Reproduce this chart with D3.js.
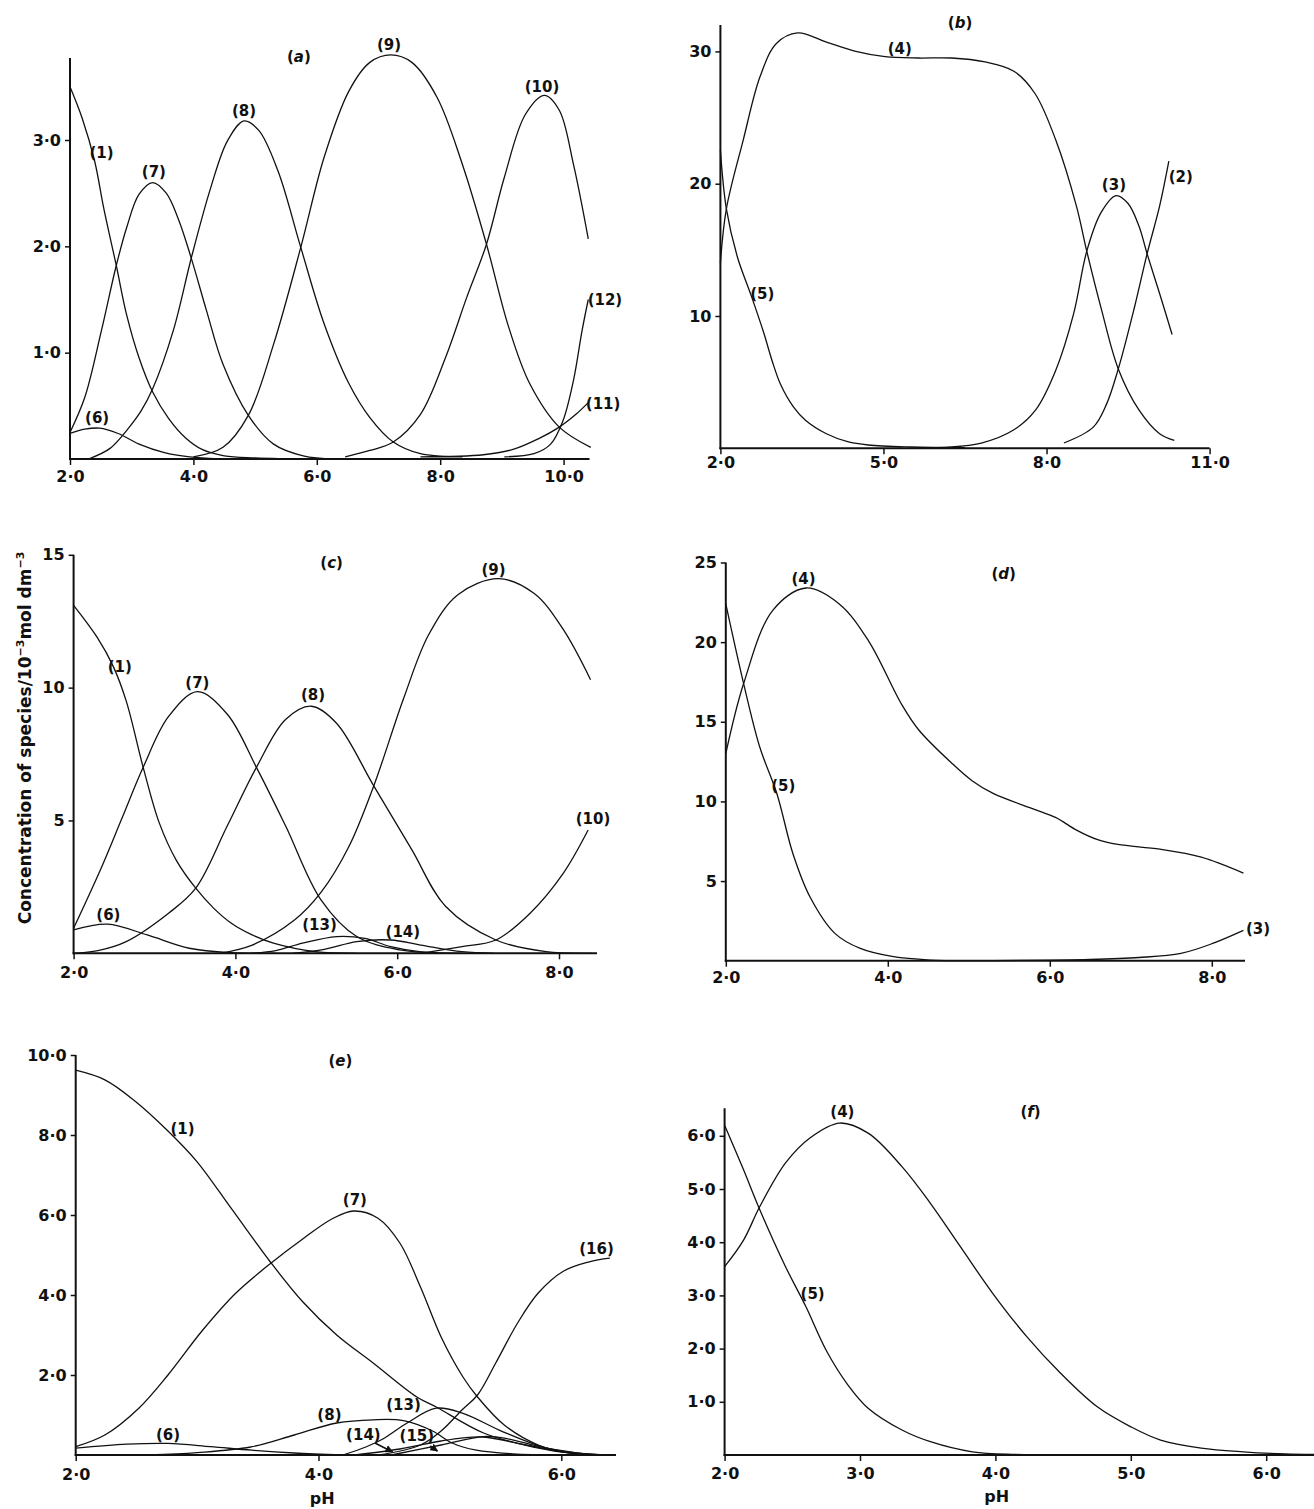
<!DOCTYPE html>
<html><head><meta charset="utf-8">
<script src="https://cdn.jsdelivr.net/npm/d3@7"></script>
<style>body{margin:0;background:#fff} svg{display:block}</style>
</head><body>
<svg id="chart" width="1314" height="1509"></svg>
<script>
// ---------------- DATA ----------------
// Panel (a): [pH, concentration]
const a1  = [[2.0,3.5],[2.2,3.2],[2.4,2.8],[2.55,2.35],[2.75,1.82],[2.92,1.35],[3.12,0.95],[3.34,0.63],[3.6,0.38],[3.87,0.2],[4.14,0.09],[4.5,0.03],[5.0,0.01],[6.0,0.0]];
const a6  = [[2.0,0.24],[2.24,0.28],[2.48,0.29],[2.78,0.24],[3.12,0.14],[3.53,0.06],[3.94,0.02],[4.41,0.0]];
const a7  = [[2.0,0.25],[2.24,0.58],[2.51,1.21],[2.75,1.82],[2.92,2.18],[3.12,2.49],[3.34,2.6],[3.56,2.5],[3.76,2.25],[3.97,1.88],[4.21,1.4],[4.48,0.89],[4.89,0.41],[5.3,0.14],[5.78,0.03],[6.3,0.0]];
const a8  = [[2.3,0.0],[2.65,0.1],[2.92,0.27],[3.15,0.45],[3.34,0.66],[3.67,1.2],[3.97,1.9],[4.28,2.55],[4.55,2.99],[4.82,3.18],[5.06,3.09],[5.37,2.71],[5.74,1.99],[6.12,1.27],[6.52,0.71],[6.86,0.39],[7.24,0.16],[7.68,0.05],[8.36,0.02]];
const a9  = [[4.0,0.02],[4.48,0.11],[4.89,0.41],[5.3,1.08],[5.74,1.99],[6.12,2.84],[6.52,3.46],[6.86,3.73],[7.2,3.8],[7.54,3.73],[7.95,3.4],[8.36,2.77],[8.75,2.02],[9.11,1.24],[9.45,0.71],[9.93,0.3],[10.44,0.11]];
const a10 = [[6.46,0.02],[6.86,0.08],[7.24,0.16],[7.68,0.42],[8.09,0.96],[8.43,1.52],[8.75,2.02],[9.04,2.65],[9.38,3.24],[9.69,3.42],[9.93,3.28],[10.16,2.77],[10.4,2.07]];
const a11 = [[7.68,0.02],[8.7,0.04],[9.18,0.09],[9.59,0.19],[9.93,0.3],[10.2,0.42],[10.4,0.53]];
const a12 = [[9.04,0.02],[9.52,0.05],[9.79,0.14],[9.99,0.36],[10.16,0.74],[10.3,1.21],[10.4,1.5]];
const aLabels = [["(9)",7.17,3.9],["(10)",9.65,3.5],["(8)",4.82,3.28],["(7)",3.36,2.7],["(1)",2.51,2.88],["(6)",2.44,0.39],["(12)",10.67,1.5],["(11)",10.64,0.52]];
const aXTicks = [2,4,6,8,10], aXTickLabels = ["2·0","4·0","6·0","8·0","10·0"];
const aYTicks = [1,2,3],       aYTickLabels = ["1·0","2·0","3·0"];

// Panel (b)
const b2 = [[8.32,0.4],[8.86,1.6],[9.1,3.3],[9.32,6.0],[9.62,10.7],[9.85,14.7],[10.08,18.3],[10.25,21.7]];
const b3 = [[6.0,0.05],[6.8,0.4],[7.4,1.4],[7.8,2.9],[8.17,5.9],[8.5,10.2],[8.74,14.9],[9.0,17.8],[9.28,19.1],[9.5,18.5],[9.7,16.8],[9.85,14.7],[10.08,11.7],[10.31,8.6]];
const b4 = [[2.0,14.0],[2.11,18.1],[2.42,23.3],[2.73,28.1],[3.03,30.6],[3.42,31.4],[3.95,30.7],[4.49,30.0],[5.03,29.6],[5.64,29.5],[6.25,29.5],[6.87,29.2],[7.4,28.5],[7.79,26.8],[8.17,23.3],[8.55,18.3],[8.74,14.9],[9.01,10.5],[9.32,6.0],[9.7,2.9],[10.08,1.1],[10.35,0.6]];
const b5 = [[2.0,22.5],[2.11,18.1],[2.31,14.5],[2.57,11.5],[2.8,8.7],[2.96,6.5],[3.11,4.8],[3.34,3.15],[3.57,2.1],[3.95,1.1],[4.34,0.5],[4.72,0.25],[5.5,0.1],[6.5,0.05]];
const bLabels = [["(4)",5.3,30.2],["(3)",9.24,19.9],["(2)",10.47,20.5],["(5)",2.77,11.7]];
const bXTicks = [2,5,8,11],   bXTickLabels = ["2·0","5·0","8·0","11·0"];
const bYTicks = [10,20,30],   bYTickLabels = ["10","20","30"];

// Panel (c)
const c1  = [[2.0,13.1],[2.29,11.9],[2.49,10.8],[2.65,9.5],[2.86,7.0],[3.06,4.9],[3.27,3.5],[3.51,2.45],[3.73,1.7],[3.95,1.13],[4.2,0.7],[4.47,0.38],[4.99,0.06],[5.5,0.0]];
const c6  = [[2.0,0.88],[2.42,1.1],[2.91,0.69],[3.43,0.19],[3.95,0.02],[4.5,0.0]];
const c7  = [[2.0,0.94],[2.34,3.2],[2.6,5.1],[2.86,7.0],[3.17,8.9],[3.53,9.85],[3.9,9.0],[4.26,7.0],[4.62,4.8],[5.06,2.0],[5.5,0.63],[6.03,0.13],[6.5,0.02]];
const c8  = [[2.0,0.0],[2.3,0.1],[2.65,0.44],[3.17,1.5],[3.51,2.45],[3.9,4.8],[4.26,7.0],[4.62,8.8],[4.94,9.3],[5.25,8.66],[5.71,6.3],[6.18,3.9],[6.6,1.76],[7.22,0.5],[7.84,0.06],[8.4,0.0]];
const c9  = [[3.8,0.0],[4.2,0.3],[4.73,1.25],[5.06,2.3],[5.4,4.0],[5.71,6.3],[6.08,9.6],[6.39,12.0],[6.75,13.5],[7.25,14.1],[7.69,13.55],[8.05,12.2],[8.39,10.3]];
const c10 = [[6.3,0.0],[6.8,0.25],[7.22,0.5],[7.64,1.5],[8.05,3.0],[8.36,4.64]];
const c13 = [[4.2,0.0],[4.5,0.1],[4.83,0.38],[5.25,0.63],[5.6,0.56],[5.92,0.25],[6.3,0.05],[6.8,0.0]];
const c14 = [[4.7,0.0],[5.1,0.15],[5.5,0.44],[5.92,0.5],[6.29,0.31],[6.8,0.06],[7.2,0.0]];
const cLabels = [["(9)",7.19,14.45],["(1)",2.57,10.8],["(7)",3.53,10.2],["(8)",4.96,9.72],["(10)",8.42,5.08],["(6)",2.43,1.44],["(13)",5.04,1.07],["(14)",6.07,0.82]];
const cXTicks = [2,4,6,8],    cXTickLabels = ["2·0","4·0","6·0","8·0"];
const cYTicks = [5,10,15],    cYTickLabels = ["5","10","15"];

// Panel (d)
const d3s = [[5.0,0.0],[6.5,0.08],[7.1,0.2],[7.62,0.46],[8.02,1.1],[8.39,1.9]];
const d4  = [[2.0,13.0],[2.22,17.4],[2.58,22.0],[2.99,23.4],[3.4,22.4],[3.76,20.1],[4.17,16.1],[4.38,14.5],[4.79,12.4],[5.04,11.3],[5.3,10.5],[5.81,9.5],[6.07,9.0],[6.33,8.2],[6.59,7.6],[6.84,7.3],[7.36,7.0],[7.87,6.5],[8.39,5.5]];
const d5  = [[2.0,22.4],[2.22,17.4],[2.42,13.4],[2.63,10.5],[2.83,6.7],[3.04,4.0],[3.35,1.7],[3.66,0.77],[4.07,0.25],[4.53,0.04],[5.0,0.0]];
const dLabels = [["(4)",2.96,24.0],["(5)",2.71,11.0],["(3)",8.57,2.03]];
const dXTicks = [2,4,6,8],        dXTickLabels = ["2·0","4·0","6·0","8·0"];
const dYTicks = [5,10,15,20,25],  dYTickLabels = ["5","10","15","20","25"];

// Panel (e)
const e1  = [[2.0,9.62],[2.24,9.38],[2.48,8.87],[2.76,8.1],[3.0,7.33],[3.28,6.17],[3.61,4.8],[3.87,3.83],[4.15,3.0],[4.45,2.3],[4.81,1.45],[4.97,1.2],[5.36,0.55],[5.77,0.2],[6.1,0.04],[6.45,0.0]];
const e6  = [[2.0,0.17],[2.42,0.27],[2.76,0.29],[3.11,0.21],[3.45,0.12],[3.8,0.05],[4.2,0.0]];
const e7  = [[2.0,0.21],[2.24,0.5],[2.52,1.17],[2.76,2.0],[3.04,3.1],[3.32,4.05],[3.61,4.8],[3.87,5.4],[4.11,5.9],[4.29,6.1],[4.49,5.92],[4.67,5.3],[4.84,4.2],[5.01,2.95],[5.19,1.95],[5.31,1.45],[5.53,0.75],[5.81,0.25],[6.05,0.06],[6.45,0.0]];
const e8  = [[2.6,0.0],[3.0,0.06],[3.44,0.2],[3.8,0.5],[4.15,0.8],[4.45,0.88],[4.7,0.86],[4.94,0.6],[5.1,0.3],[5.3,0.12],[5.6,0.03],[6.0,0.0]];
const e13 = [[4.2,0.0],[4.39,0.2],[4.53,0.4],[4.73,0.8],[4.97,1.17],[5.19,1.04],[5.52,0.58],[5.88,0.17],[6.2,0.03],[6.45,0.0]];
const e14 = [[4.3,0.0],[4.67,0.15],[5.01,0.35],[5.19,0.43],[5.36,0.45],[5.71,0.25],[6.05,0.06],[6.45,0.0]];
const e15 = [[4.6,0.0],[5.01,0.25],[5.36,0.46],[5.53,0.42],[5.88,0.17],[6.2,0.03],[6.45,0.0]];
const e16 = [[4.5,0.0],[4.84,0.25],[5.01,0.6],[5.19,1.15],[5.31,1.5],[5.46,2.3],[5.64,3.3],[5.81,4.05],[6.02,4.6],[6.23,4.83],[6.4,4.92]];
const eLabels = [["(1)",2.88,8.17],["(7)",4.3,6.39],["(16)",6.29,5.17],["(8)",4.09,1.0],["(13)",4.7,1.25],["(14)",4.37,0.5],["(15)",4.81,0.475],["(6)",2.76,0.5]];
const eArrows = [[4.465,0.3,4.61,0.075],[4.92,0.225,4.98,0.1]];
const eXTicks = [2,4,6],          eXTickLabels = ["2·0","4·0","6·0"];
const eYTicks = [2,4,6,8,10],     eYTickLabels = ["2·0","4·0","6·0","8·0","10·0"];

// Panel (f)
const f4 = [[2.0,3.54],[2.14,4.04],[2.26,4.67],[2.45,5.49],[2.63,5.96],[2.85,6.24],[3.06,6.05],[3.31,5.42],[3.52,4.73],[3.74,3.92],[3.98,3.04],[4.23,2.23],[4.48,1.54],[4.75,0.91],[5.0,0.53],[5.22,0.28],[5.52,0.13],[5.83,0.06],[6.14,0.02],[6.4,0.01]];
const f5 = [[2.0,6.2],[2.14,5.36],[2.26,4.61],[2.45,3.54],[2.6,2.79],[2.75,1.97],[2.91,1.32],[3.06,0.88],[3.31,0.47],[3.52,0.25],[3.83,0.06],[4.15,0.01],[4.5,0.0]];
const fLabels = [["(4)",2.87,6.46],["(5)",2.65,3.04]];
const fXTicks = [2,3,4,5,6],      fXTickLabels = ["2·0","3·0","4·0","5·0","6·0"];
const fYTicks = [1,2,3,4,5,6],    fYTickLabels = ["1·0","2·0","3·0","4·0","5·0","6·0"];

// ---------------- LAYOUT ----------------
const panels = [
  {letter:"a", series:[a1,a6,a7,a8,a9,a10,a11,a12], labels:aLabels, title:[5.71,3.78],
   xTicks:aXTicks, xTickLabels:aXTickLabels, yTicks:aYTicks, yTickLabels:aYTickLabels,
   xDomain:[2,10], xRange:[70,563.6], yDomain:[0,3], yRange:[459,140], xEnd:10.42, yTop:3.77, xLabBase:23},
  {letter:"b", series:[b2,b3,b4,b5], labels:bLabels, title:[6.41,32.2],
   xTicks:bXTicks, xTickLabels:bXTickLabels, yTicks:bYTicks, yTickLabels:bYTickLabels,
   xDomain:[2,11], xRange:[720.4,1209.6], yDomain:[0,30], yRange:[448.3,51.4], xEnd:11.0, yTop:32, xLabBase:20},
  {letter:"c", series:[c1,c6,c7,c8,c9,c10,c13,c14], labels:cLabels, title:[5.19,14.7],
   xTicks:cXTicks, xTickLabels:cXTickLabels, yTicks:cYTicks, yTickLabels:cYTickLabels,
   xDomain:[2,8], xRange:[73.6,559], yDomain:[0,15], yRange:[953.3,554.8], xEnd:8.47, yTop:15, xLabBase:25},
  {letter:"d", series:[d3s,d4,d5], labels:dLabels, title:[5.43,24.3],
   xTicks:dXTicks, xTickLabels:dXTickLabels, yTicks:dYTicks, yTickLabels:dYTickLabels,
   xDomain:[2,8], xRange:[725.8,1211.8], yDomain:[0,25], yRange:[960.7,562.5], xEnd:8.41, yTop:25, xLabBase:22},
  {letter:"e", series:[e1,e6,e7,e8,e13,e14,e15,e16], labels:eLabels, title:[4.18,9.87], arrows:eArrows,
   xTicks:eXTicks, xTickLabels:eXTickLabels, yTicks:eYTicks, yTickLabels:eYTickLabels,
   xDomain:[2,6], xRange:[75.7,561.3], yDomain:[0,10], yRange:[1455,1055], xEnd:6.45, yTop:10, xLabBase:25,
   pH:{x:4.03, dy:49}},
  {letter:"f", series:[f4,f5], labels:fLabels, title:[4.26,6.46],
   xTicks:fXTicks, xTickLabels:fXTickLabels, yTicks:fYTicks, yTickLabels:fYTickLabels,
   xDomain:[2,6], xRange:[724.6,1266.2], yDomain:[0,6], yRange:[1455,1135.8], xEnd:6.4, yTop:6.52, xLabBase:24,
   pH:{x:4.01, dy:47}}
];

const FONT = "'DejaVu Sans', 'Liberation Sans', sans-serif";
const INK = "#111";
const svg = d3.select("#chart");
svg.append("rect").attr("width",1314).attr("height",1509).attr("fill","#fff");

const defs = svg.append("defs");
defs.append("marker").attr("id","arrow").attr("viewBox","0 0 10 10").attr("refX",9).attr("refY",5)
  .attr("markerWidth",5).attr("markerHeight",5).attr("orient","auto")
  .append("path").attr("d","M0,0 L10,5 L0,10 z").attr("fill",INK);

panels.forEach(p => {
  const x = d3.scaleLinear().domain(p.xDomain).range(p.xRange);
  const y = d3.scaleLinear().domain(p.yDomain).range(p.yRange);
  const g = svg.append("g");
  const x0 = x(p.xDomain[0]), y0 = y(0);

  // curves
  const line = d3.line().x(d => x(d[0])).y(d => Math.min(y(d[1]), y0)).curve(d3.curveCatmullRom.alpha(0.5));
  g.selectAll("path.curve").data(p.series).join("path").attr("class","curve")
    .attr("d", line).attr("fill","none").attr("stroke",INK).attr("stroke-width",1.3)
    .attr("stroke-linejoin","round");

  // y axis
  const yAxis = d3.axisLeft(y).tickValues(p.yTicks).tickFormat((d,i) => p.yTickLabels[i]).tickSize(5).tickPadding(4);
  const gy = g.append("g").attr("transform",`translate(${x0},0)`).call(yAxis);
  gy.select(".domain").remove();
  gy.selectAll("line").attr("stroke",INK).attr("stroke-width",1.5);
  gy.selectAll("text").attr("font-family",FONT).attr("font-weight","bold").attr("font-size",16).attr("fill",INK);

  // x axis
  const padX = p.xLabBase - 11.4 - 6;
  const xAxis = d3.axisBottom(x).tickValues(p.xTicks).tickFormat((d,i) => p.xTickLabels[i]).tickSize(6).tickPadding(padX);
  const gx = g.append("g").attr("transform",`translate(0,${y0})`).call(xAxis);
  gx.select(".domain").remove();
  gx.selectAll("line").attr("stroke",INK).attr("stroke-width",1.5);
  gx.selectAll("text").attr("font-family",FONT).attr("font-weight","bold").attr("font-size",16).attr("fill",INK);

  // axis lines
  g.append("line").attr("x1",x0).attr("x2",x0).attr("y1",y0+1).attr("y2",y(p.yTop))
    .attr("stroke",INK).attr("stroke-width",2);
  g.append("line").attr("x1",x0-1).attr("x2",x(p.xEnd)).attr("y1",y0).attr("y2",y0)
    .attr("stroke",INK).attr("stroke-width",2);

  // species labels
  g.selectAll("text.lab").data(p.labels).join("text").attr("class","lab")
    .attr("x", d => x(d[1])).attr("y", d => y(d[2])).attr("dy","0.36em")
    .attr("text-anchor","middle").attr("font-family",FONT).attr("font-weight","bold")
    .attr("font-size",15).attr("fill",INK).text(d => d[0]);

  // panel letter
  const t = g.append("text").attr("x", x(p.title[0])).attr("y", y(p.title[1])).attr("dy","0.36em")
    .attr("text-anchor","middle").attr("font-family",FONT).attr("font-weight","bold")
    .attr("font-size",15).attr("fill",INK);
  t.append("tspan").text("(");
  t.append("tspan").attr("font-style","italic").text(p.letter);
  t.append("tspan").text(")");

  // arrows
  if (p.arrows) {
    g.selectAll("line.arr").data(p.arrows).join("line").attr("class","arr")
      .attr("x1", d => x(d[0])).attr("y1", d => y(d[1])).attr("x2", d => x(d[2])).attr("y2", d => y(d[3]))
      .attr("stroke",INK).attr("stroke-width",1.6).attr("marker-end","url(#arrow)");
  }

  // pH axis title
  if (p.pH) {
    g.append("text").attr("x", x(p.pH.x)).attr("y", y0 + p.pH.dy).attr("text-anchor","middle")
      .attr("font-family",FONT).attr("font-weight","bold").attr("font-size",16).attr("fill",INK).text("pH");
  }
});

// shared y-axis title
const yt = svg.append("text").attr("transform","translate(31,738) rotate(-90)")
  .attr("text-anchor","middle").attr("font-family",FONT).attr("font-weight","bold").attr("font-size",17).attr("fill",INK);
yt.append("tspan").text("Concentration of species/10");
yt.append("tspan").attr("dy",-7).attr("font-size",11).text("−3");
yt.append("tspan").attr("dy",7).text("mol dm");
yt.append("tspan").attr("dy",-7).attr("font-size",11).text("−3");
</script>
</body></html>
